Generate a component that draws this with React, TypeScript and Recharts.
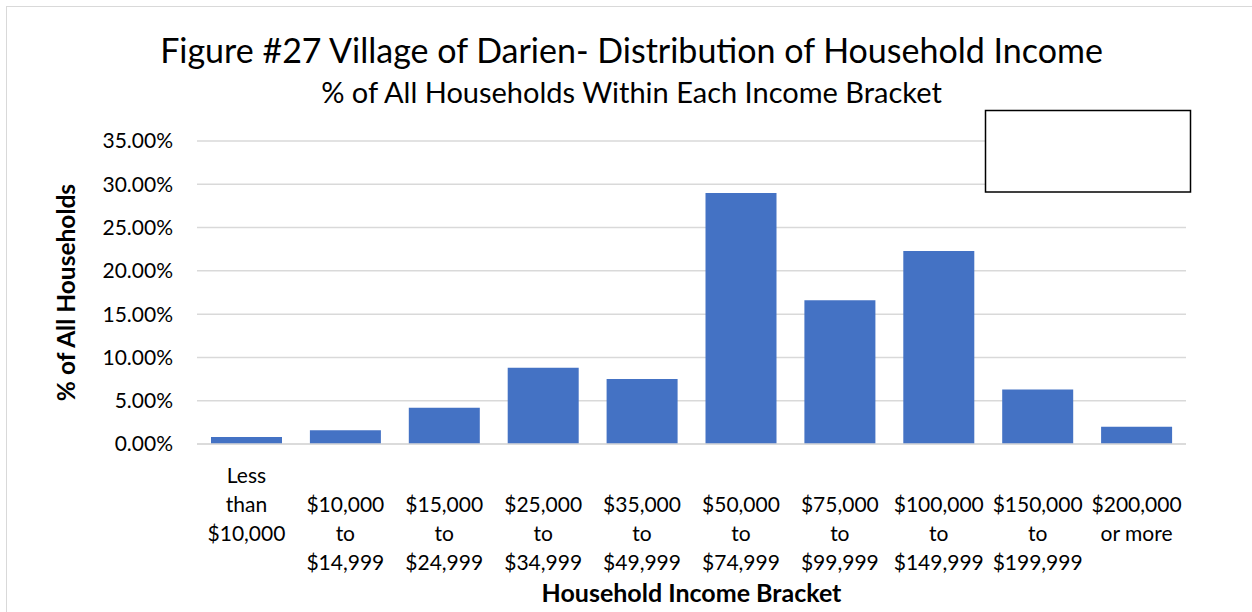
import { BarChart, Bar, XAxis, YAxis, CartesianGrid } from "recharts";

const brackets = [
  "Less\nthan\n$10,000",
  "$10,000\nto\n$14,999",
  "$15,000\nto\n$24,999",
  "$25,000\nto\n$34,999",
  "$35,000\nto\n$49,999",
  "$50,000\nto\n$74,999",
  "$75,000\nto\n$99,999",
  "$100,000\nto\n$149,999",
  "$150,000\nto\n$199,999",
  "$200,000\nor more",
];

// % of all households in each bracket
const shares = [0.8, 1.6, 4.2, 8.8, 7.5, 29.0, 16.6, 22.3, 6.3, 2.0];

const yTicks = [0, 5, 10, 15, 20, 25, 30, 35];

const data = brackets.map((b, i) => ({ bracket: b, share: shares[i] }));

const FONT = "Lato, 'Open Sans', sans-serif";
const GRID = "#d9d9d9";

// eslint-disable-next-line @typescript-eslint/no-explicit-any
const BracketTick = ({ x, y, payload }: any) => {
  const lines: string[] = String(payload.value).split("\n");
  // dollar-range labels sit one row lower than the "Less than" label
  const startRow = lines[0].startsWith("$") ? 1 : 0;
  return (
    <g>
      {lines.map((ln, k) => (
        <text
          key={k}
          x={x}
          y={y + 39 + 29 * (startRow + k)}
          textAnchor="middle"
          fontFamily={FONT}
          fontSize={21}
          fill="#000"
        >
          {ln}
        </text>
      ))}
    </g>
  );
};

export default function App() {
  return (
    <div
      style={{
        position: "absolute",
        left: 0,
        top: 0,
        width: 1252,
        height: 612,
        background: "#fff",
        overflow: "hidden",
      }}
    >
      <div
        style={{
          position: "absolute",
          left: 6,
          top: 6,
          width: 1400,
          height: 800,
          borderLeft: `1.5px solid ${GRID}`,
          borderTop: `1.5px solid ${GRID}`,
        }}
      />
      <BarChart
        width={1252}
        height={612}
        data={data}
        margin={{ top: 141, right: 66, bottom: 0, left: 0 }}
        barCategoryGap={14}
      >
        <CartesianGrid vertical={false} stroke={GRID} strokeWidth={1.5} />
        <XAxis
          dataKey="bracket"
          height={168}
          interval={0}
          tickLine={false}
          tickSize={0}
          tickMargin={0}
          axisLine={{ stroke: GRID, strokeWidth: 1.5 }}
          tick={<BracketTick />}
          label={{
            // eslint-disable-next-line @typescript-eslint/no-explicit-any
            content: ({ viewBox }: any) => (
              <text
                x={viewBox.x + viewBox.width / 2}
                y={viewBox.y + 158}
                textAnchor="middle"
                fontFamily={FONT}
                fontSize={25}
                fontWeight="bold"
                fill="#000"
              >
                Household Income Bracket
              </text>
            ),
          }}
        />
        <YAxis
          width={197}
          domain={[0, 35]}
          ticks={yTicks}
          interval={0}
          axisLine={false}
          tickLine={false}
          tickSize={0}
          tickMargin={24}
          tickFormatter={(v: number) => `${v.toFixed(2)}%`}
          tick={{ fontFamily: FONT, fontSize: 21, fill: "#000" }}
          label={{
            // eslint-disable-next-line @typescript-eslint/no-explicit-any
            content: ({ viewBox }: any) => {
              const cx = 65;
              const cy = viewBox.y + viewBox.height / 2;
              return (
                <text
                  x={cx}
                  y={cy}
                  transform={`rotate(-90 ${cx} ${cy})`}
                  textAnchor="middle"
                  dominantBaseline="central"
                  fontFamily={FONT}
                  fontSize={24.5}
                  fontWeight="bold"
                  fill="#000"
                >
                  % of All Households
                </text>
              );
            },
          }}
        />
        <Bar dataKey="share" fill="#4472C4" isAnimationActive={false} />
      </BarChart>
      <svg
        width={1252}
        height={612}
        style={{ position: "absolute", left: 0, top: 0, pointerEvents: "none" }}
      >
        <text x={631.5} y={63} textAnchor="middle" fontFamily={FONT} fontSize={34} fill="#000">
          Figure #27 Village of Darien- Distribution of Household Income
        </text>
        <text x={631.5} y={103} textAnchor="middle" fontFamily={FONT} fontSize={29} fill="#000">
          % of All Households Within Each Income Bracket
        </text>
        <rect x={985.5} y={110.5} width={205} height={81.5} fill="#fff" stroke="#000" strokeWidth={1.5} />
      </svg>
    </div>
  );
}
